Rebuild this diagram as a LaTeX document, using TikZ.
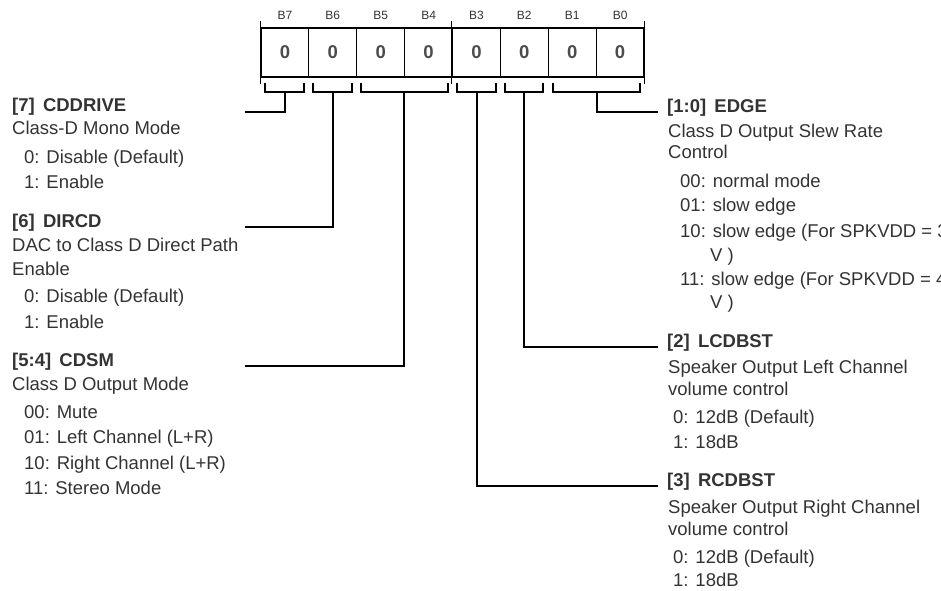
\documentclass[tikz,border=0pt]{standalone}
\usepackage{fontspec}
\setmainfont{Liberation Sans}
\begin{document}
\begin{tikzpicture}[x=1pt,y=-1pt,
  txt/.style={anchor=base west,inner sep=0pt,text=black!80,font=\fontsize{18.5}{22}\selectfont},
  fld/.style={txt,font=\fontsize{18.5}{22}\selectfont\bfseries},
  fldr/.style={fld,inner xsep=9pt},
  bitname/.style={anchor=base,inner sep=0pt,text=black!80,font=\fontsize{12}{14}\selectfont},
  bitcell/.style={draw,line width=1.2pt,minimum width=47.9pt,minimum height=49pt,inner sep=0pt,text=black!70,font=\fontsize{18.5}{22}\selectfont\bfseries},
  wire/.style={line width=1.2pt}]
  \useasboundingbox (0,0) rectangle (941,590);
  \clip (0,0) rectangle (941,590);
  % register cells
  \node[bitcell] (b7) at (284.9,52.5) {\raisebox{-4pt}{0}};
  \node[bitcell] (b6) at (332.8,52.5) {\raisebox{-4pt}{0}};
  \node[bitcell] (b5) at (380.7,52.5) {\raisebox{-4pt}{0}};
  \node[bitcell] (b4) at (428.6,52.5) {\raisebox{-4pt}{0}};
  \node[bitcell] (b3) at (476.4,52.5) {\raisebox{-4pt}{0}};
  \node[bitcell] (b2) at (524.3,52.5) {\raisebox{-4pt}{0}};
  \node[bitcell] (b1) at (572.2,52.5) {\raisebox{-4pt}{0}};
  \node[bitcell] (b0) at (620.1,52.5) {\raisebox{-4pt}{0}};
  \node[bitname] (n7) at (284.9,19) {B7};
  \node[bitname] (n6) at (332.8,19) {B6};
  \node[bitname] (n5) at (380.7,19) {B5};
  \node[bitname] (n4) at (428.6,19) {B4};
  \node[bitname] (n3) at (476.4,19) {B3};
  \node[bitname] (n2) at (524.3,19) {B2};
  \node[bitname] (n1) at (572.2,19) {B1};
  \node[bitname] (n0) at (620.1,19) {B0};
  \draw[wire] ([yshift=6pt]b7.north west) -- ([yshift=-6pt]b7.south west);
  \draw[wire] ([yshift=6pt]b3.north west) -- ([yshift=-6pt]b3.south west);
  \draw[wire] ([yshift=6pt]b0.north east) -- ([yshift=-6pt]b0.south east);
  % field brackets
  \draw[wire] (265,83) -- (265,92) -- (304,92) -- (304,83);
  \draw[wire] (313,83) -- (313,92) -- (352,92) -- (352,83);
  \draw[wire] (361,83) -- (361,92) -- (448,92) -- (448,83);
  \draw[wire] (457,83) -- (457,92) -- (496,92) -- (496,83);
  \draw[wire] (505,83) -- (505,92) -- (543,92) -- (543,83);
  \draw[wire] (553,83) -- (553,92) -- (640,92) -- (640,83);
  \coordinate (k7) at (285,92);
  \coordinate (k6) at (333,92);
  \coordinate (k54) at (404,92);
  \coordinate (k3) at (477,92);
  \coordinate (k2) at (524,92);
  \coordinate (k10) at (597,92);
  % left fields
  \node[fld] (cddrive) at (12,111) {[7]\ \,CDDRIVE};
  \node[txt] (cddrive1) at (12,134) {Class-D Mono Mode};
  \node[txt] (cddrive2) at (24,163) {0: Disable (Default)};
  \node[txt] (cddrive3) at (24,188) {1: Enable};
  \node[fld] (dircd) at (12,227) {[6]\ \,DIRCD};
  \node[txt] (dircd1) at (12,251) {DAC to Class D Direct Path};
  \node[txt] (dircd2) at (12,275) {Enable};
  \node[txt] (dircd3) at (24,302) {0: Disable (Default)};
  \node[txt] (dircd4) at (24,328) {1: Enable};
  \node[fld] (cdsm) at (12,366) {[5:4]\ \,CDSM};
  \node[txt] (cdsm1) at (12,390) {Class D Output Mode};
  \node[txt] (cdsm2) at (24,418) {00: Mute};
  \node[txt] (cdsm3) at (24,443) {01: Left Channel (L+R)};
  \node[txt] (cdsm4) at (24,469) {10: Right Channel (L+R)};
  \node[txt] (cdsm5) at (24,494) {11: Stereo Mode};
  \coordinate (e7) at (245,112);
  \coordinate (e6) at (245,227);
  \coordinate (e54) at (245,366);
  \draw[wire] (k7) |- (e7);
  \draw[wire] (k6) |- (e6);
  \draw[wire] (k54) |- (e54);
  % right fields
  \node[fldr] (edge) at (658,112) {[1:0]\ \,EDGE};
  \node[txt] (edge1) at (668,137) {Class D Output Slew Rate};
  \node[txt] (edge2) at (668,158) {Control};
  \node[txt] (edge3) at (680,187) {00: normal mode};
  \node[txt] (edge4) at (680,211) {01: slow edge};
  \node[txt] (edge5) at (680,237) {10: slow edge (For SPKVDD = 3.6};
  \node[txt] (edge6) at (710,261) {V )};
  \node[txt] (edge7) at (680,285) {11: slow edge (For SPKVDD = 4.6};
  \node[txt] (edge8) at (710,308) {V )};
  \node[fldr] (lcdbst) at (658,347) {[2]\ \,LCDBST};
  \node[txt] (lcdbst1) at (668,373) {Speaker Output Left Channel};
  \node[txt] (lcdbst2) at (668,395) {volume control};
  \node[txt] (lcdbst3) at (673,423) {0: 12dB (Default)};
  \node[txt] (lcdbst4) at (673,448) {1: 18dB};
  \node[fldr] (rcdbst) at (658,486) {[3]\ \,RCDBST};
  \node[txt] (rcdbst1) at (668,513) {Speaker Output Right Channel};
  \node[txt] (rcdbst2) at (668,535) {volume control};
  \node[txt] (rcdbst3) at (673,563) {0: 12dB (Default)};
  \node[txt] (rcdbst4) at (673,586) {1: 18dB};
  \draw[wire] (k10) |- (edge.base west);
  \draw[wire] (k2) |- (lcdbst.base west);
  \draw[wire] (k3) |- (rcdbst.base west);
\end{tikzpicture}
\end{document}
